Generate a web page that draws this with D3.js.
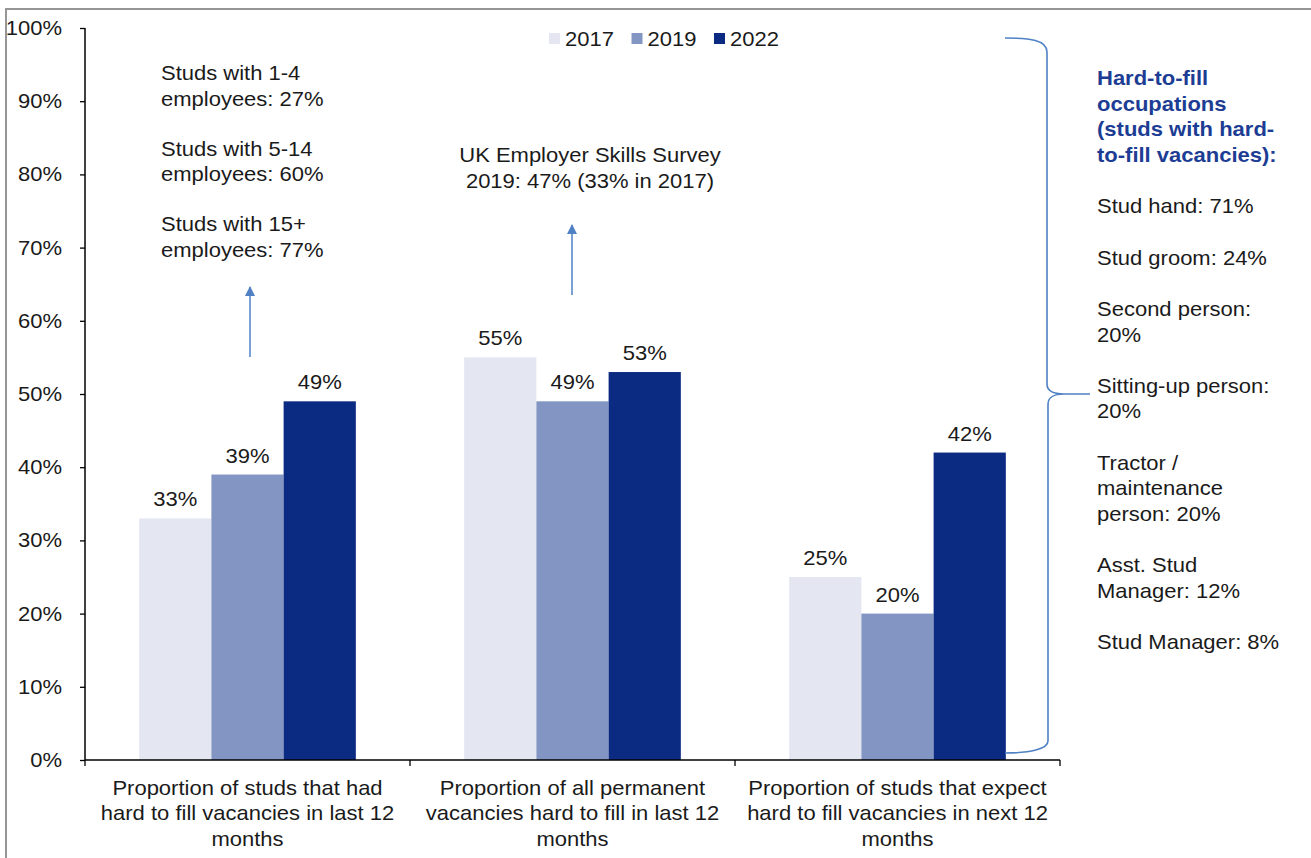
<!DOCTYPE html>
<html>
<head>
<meta charset="utf-8">
<script src="https://cdn.jsdelivr.net/npm/d3@7"></script>
<style>
  html, body { margin: 0; padding: 0; background: #fff; }
  svg { display: block; }
  text { font-family: "Liberation Sans", Arial, sans-serif; fill: #1a1a1a; }
</style>
</head>
<body>
<svg id="chart" width="1311" height="858"></svg>
<script>
// Hard-to-fill vacancies among studs, by survey year
const categories = [
  ["Proportion of studs that had", "hard to fill vacancies in last 12", "months"],
  ["Proportion of all permanent", "vacancies hard to fill in last 12", "months"],
  ["Proportion of studs that expect", "hard to fill vacancies in next 12", "months"]
];
const years = ["2017", "2019", "2022"];
const values2017 = [33, 55, 25];
const values2019 = [39, 49, 20];
const values2022 = [49, 53, 42];
const yTicks = [0, 10, 20, 30, 40, 50, 60, 70, 80, 90, 100];

const studSizeNotes = [
  ["Studs with 1-4", "employees: 27%"],
  ["Studs with 5-14", "employees: 60%"],
  ["Studs with 15+", "employees: 77%"]
];
const surveyNote = ["UK Employer Skills Survey", "2019: 47% (33% in 2017)"];
const occupationsTitle = ["Hard-to-fill", "occupations", "(studs with hard-", "to-fill vacancies):"];
const occupations = [
  ["Stud hand: 71%"],
  ["Stud groom: 24%"],
  ["Second person:", "20%"],
  ["Sitting-up person:", "20%"],
  ["Tractor /", "maintenance", "person: 20%"],
  ["Asst. Stud", "Manager: 12%"],
  ["Stud Manager: 8%"]
];

const seriesValues = [values2017, values2019, values2022];
const colors = ["#e4e7f1", "#8395c2", "#0b2a82"];
const noteBlue = "#4f81c4";
const FONT = 20;
const WIDEN = 1.1;   // the lettering is set slightly wide

const svg = d3.select("#chart");

// places one line of widened text with its anchor at (x, y)
function addText(parent, x, y, str, anchor = "start", opts = {}) {
  const t = parent.append("text")
    .attr("transform", `translate(${x},${y}) scale(${WIDEN},1)`)
    .attr("text-anchor", anchor)
    .attr("font-size", opts.size || FONT)
    .text(str);
  if (opts.bold) t.attr("font-weight", "bold");
  if (opts.fill) t.style("fill", opts.fill);
  if (opts.dy) t.attr("dy", opts.dy);
  return t;
}

// outer frame
svg.append("path")
  .attr("d", "M6,858 L6,9 L1311,9")
  .attr("fill", "none").attr("stroke", "#969696").attr("stroke-width", 2);

const plot = { left: 85, right: 1060, top: 28, bottom: 760 };
const catIdx = d3.range(categories.length);

const x = d3.scaleBand().domain(catIdx).range([plot.left, plot.right]).padding(0);
const xInner = d3.scaleBand().domain(years).range([0, x.bandwidth()])
  .paddingInner(0).paddingOuter(0.75);
const y = d3.scaleLinear().domain([0, 100]).range([plot.bottom, plot.top]);

// bars
const barData = catIdx.flatMap(i => years.map((yr, s) => ({ i, yr, s, v: seriesValues[s][i] })));
svg.append("g").selectAll("rect")
  .data(barData).join("rect")
  .attr("x", d => x(d.i) + xInner(d.yr))
  .attr("width", xInner.bandwidth())
  .attr("y", d => y(d.v))
  .attr("height", d => y(0) - y(d.v))
  .attr("fill", d => colors[d.s]);

const valLayer = svg.append("g");
barData.forEach(d => {
  addText(valLayer, x(d.i) + xInner(d.yr) + xInner.bandwidth() / 2, y(d.v) - 12, d.v + "%", "middle");
});

// y axis: line and ticks from d3, labels widened
const yAxis = svg.append("g")
  .attr("transform", `translate(${plot.left},0)`)
  .call(d3.axisLeft(y).tickValues(yTicks).tickSize(5).tickFormat(""));
yAxis.select(".domain").attr("stroke", "#000").attr("stroke-width", 1.5)
  .attr("d", `M0,${plot.top}V${plot.bottom}`);
yAxis.selectAll(".tick line").attr("stroke", "#000").attr("stroke-width", 1.3);
const yLab = svg.append("g");
yTicks.forEach(t => addText(yLab, 62, y(t), t + "%", "end", { dy: "0.35em" }));

// x axis with ticks at category boundaries
const xa = svg.append("g");
xa.append("line")
  .attr("x1", plot.left).attr("x2", plot.right)
  .attr("y1", y(0)).attr("y2", y(0))
  .attr("stroke", "#000").attr("stroke-width", 1.5);
const bounds = catIdx.map(i => x(i)).concat([x(catIdx[catIdx.length - 1]) + x.bandwidth()]);
xa.selectAll("line.tk").data(bounds).join("line")
  .attr("class", "tk")
  .attr("x1", d => d).attr("x2", d => d)
  .attr("y1", y(0)).attr("y2", y(0) + 6)
  .attr("stroke", "#000").attr("stroke-width", 1.3);
catIdx.forEach(i => {
  categories[i].forEach((line, k) => {
    addText(xa, x(i) + x.bandwidth() / 2, y(0) + 35 + k * 25.3, line, "middle");
  });
});

// legend
const legend = svg.append("g");
years.forEach((yr, i) => {
  const lx = 549 + i * 82.5;
  legend.append("rect").attr("x", lx).attr("y", 33).attr("width", 11).attr("height", 11)
    .attr("fill", colors[i]);
  addText(legend, lx + 16, 46, yr);
});

// arrow marker
svg.append("defs").append("marker")
  .attr("id", "arrowhead")
  .attr("viewBox", "0 0 10 10").attr("refX", 9).attr("refY", 5)
  .attr("markerWidth", 10).attr("markerHeight", 10)
  .attr("markerUnits", "userSpaceOnUse")
  .attr("orient", "auto")
  .append("path").attr("d", "M0,0 L10,5 L0,10 Z").attr("fill", noteBlue);

// stud size notes over the first group
const notes1 = svg.append("g");
studSizeNotes.forEach((block, b) => {
  block.forEach((line, k) => addText(notes1, 161, 80 + b * 75.5 + k * 25.5, line));
});
svg.append("line")
  .attr("x1", 250).attr("x2", 250).attr("y1", 357).attr("y2", 287)
  .attr("stroke", noteBlue).attr("stroke-width", 1.5)
  .attr("marker-end", "url(#arrowhead)");

// survey comparison note over the second group
const notes2 = svg.append("g");
surveyNote.forEach((line, k) => addText(notes2, 590, 162 + k * 26, line, "middle"));
svg.append("line")
  .attr("x1", 572).attr("x2", 572).attr("y1", 295).attr("y2", 225)
  .attr("stroke", noteBlue).attr("stroke-width", 1.5)
  .attr("marker-end", "url(#arrowhead)");

// curly brace beside the chart
svg.append("path")
  .attr("d", "M1005,38 C1030,38 1047,40 1047,52 L1047,384 C1047,391 1054,394 1064,394 L1090,394 " +
             "M1064,394 C1055,394 1048,397 1048,404 L1048,741 C1048,749 1030,753 1005,753")
  .attr("fill", "none").attr("stroke", noteBlue).attr("stroke-width", 1.6);

// occupations panel
const step = 25.65;
const panel = svg.append("g");
occupationsTitle.forEach((line, k) => {
  addText(panel, 1097, 85 + k * step, line, "start", { bold: true, fill: "#1d3d94" });
});
let row = occupationsTitle.length + 1;
occupations.forEach(item => {
  item.forEach(line => {
    addText(panel, 1097, 85 + row * step, line);
    row += 1;
  });
  row += 1;
});
</script>
</body>
</html>
